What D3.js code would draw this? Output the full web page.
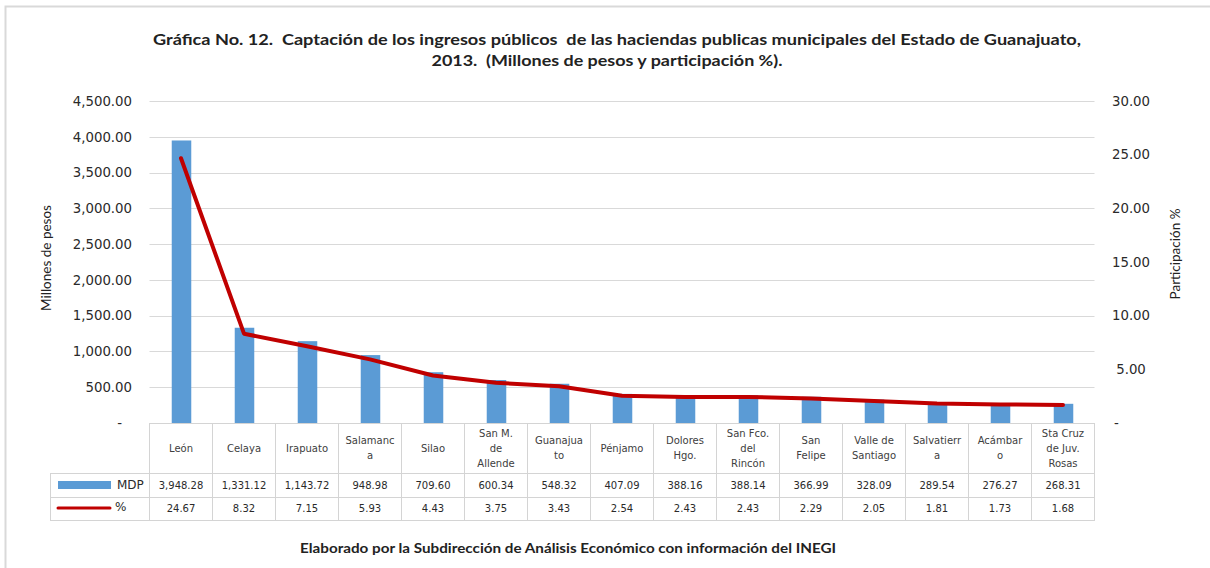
<!DOCTYPE html>
<html>
<head>
<meta charset="utf-8">
<script src="https://cdn.jsdelivr.net/npm/d3@7"></script>
<style>
  html, body { margin: 0; padding: 0; background: #fff; }
  svg { display: block; }
  .title { white-space: pre; }
</style>
</head>
<body>
<svg id="chart" width="1210" height="568"></svg>
<script>
// ---- Data ----
const categories = ["León","Celaya","Irapuato","Salamanca","Silao","San M. de Allende","Guanajuato","Pénjamo","Dolores Hgo.","San Fco. del Rincón","San Felipe","Valle de Santiago","Salvatierra","Acámbaro","Sta Cruz de Juv. Rosas"];
const categoryLines = [["León"],["Celaya"],["Irapuato"],["Salamanc","a"],["Silao"],["San M.","de","Allende"],["Guanajua","to"],["Pénjamo"],["Dolores","Hgo."],["San Fco.","del","Rincón"],["San","Felipe"],["Valle de","Santiago"],["Salvatierr","a"],["Acámbar","o"],["Sta Cruz","de Juv.","Rosas"]];
const mdp = [3948.28,1331.12,1143.72,948.98,709.60,600.34,548.32,407.09,388.16,388.14,366.99,328.09,289.54,276.27,268.31];
const pct = [24.67,8.32,7.15,5.93,4.43,3.75,3.43,2.54,2.43,2.43,2.29,2.05,1.81,1.73,1.68];
const leftTicks = [0,500,1000,1500,2000,2500,3000,3500,4000,4500];
const rightTicks = [0,5,10,15,20,25,30];
const titleLines = ["Gráfica No. 12.  Captación de los ingresos públicos  de las haciendas publicas municipales del Estado de Guanajuato,", "2013.  (Millones de pesos y participación %)."];
const leftTitle = "Millones de pesos";
const rightTitle = "Participación %";
const footnote = "Elaborado por la Subdirección de Análisis Económico con información del INEGI";
const legendNames = ["MDP", "%"];

// ---- Layout ----
const svg = d3.select("#chart");
const plotLeft = 149.5, plotRight = 1094.5, plotTop = 101, plotBottom = 423;
const gridColor = "#D9D9D9";
const tableColor = "#D4D4D4";
const barColor = "#5B9BD5";
const lineColor = "#C00000";
const tickFont = "'DejaVu Sans', Verdana, sans-serif";
const titleFont = "Lato, 'Open Sans', sans-serif";

const x = d3.scaleBand().domain(categories).range([plotLeft, plotRight]).padding(0);
const yL = d3.scaleLinear().domain([0, 4500]).range([plotBottom, plotTop]);
const yR = d3.scaleLinear().domain([0, 30]).range([plotBottom, plotTop]);
const fmt = d3.format(",.2f");

// outer border
svg.append("rect").attr("x", 5.5).attr("y", 6.5).attr("width", 1220).attr("height", 600)
  .attr("fill", "none").attr("stroke", "#D9D9D9").attr("stroke-width", 2);

// title
svg.selectAll("text.title").data(titleLines).join("text")
  .attr("class", "title")
  .attr("x", (d, i) => i === 0 ? 617 : 607)
  .attr("y", (d, i) => 45 + i * 21)
  .attr("text-anchor", "middle")
  .attr("font-family", titleFont).attr("font-weight", "bold").attr("font-size", 15.5)
  .attr("fill", "#222")
  .attr("textLength", (d, i) => i === 0 ? 928 : 351)
  .attr("lengthAdjust", "spacingAndGlyphs")
  .text(d => d);

// gridlines
svg.append("g").selectAll("line").data(leftTicks.slice(1)).join("line")
  .attr("x1", plotLeft).attr("x2", plotRight)
  .attr("y1", d => Math.round(yL(d)) + 0.5).attr("y2", d => Math.round(yL(d)) + 0.5)
  .attr("stroke", gridColor).attr("stroke-width", 1);

// left axis
const leftAxis = d3.axisLeft(yL).tickValues(leftTicks).tickSize(0).tickPadding(0)
  .tickFormat(d => d === 0 ? "-" : fmt(d));
const gL = svg.append("g").attr("transform", `translate(132,0)`).call(leftAxis);
gL.select(".domain").remove();
gL.selectAll("text").attr("font-family", tickFont).attr("font-size", 13.3).attr("fill", "#2a2a2a")
  .attr("dx", d => d === 0 ? -10 : 0);

// right axis
const rightAxis = d3.axisRight(yR).tickValues(rightTicks).tickSize(0).tickPadding(0)
  .tickFormat(d => d === 0 ? "-" : fmt(d));
const gR = svg.append("g").attr("transform", `translate(1131,0)`).call(rightAxis);
gR.select(".domain").remove();
gR.selectAll("text").attr("font-family", tickFont).attr("font-size", 13.3).attr("fill", "#2a2a2a")
  .attr("text-anchor", d => d === 0 ? "start" : "middle")
  .attr("dx", d => d === 0 ? -17 : 0);

// axis titles
svg.append("text").attr("transform", "translate(51,258) rotate(-90)")
  .attr("text-anchor", "middle").attr("font-family", titleFont).attr("font-size", 13.5).attr("fill", "#222")
  .text(leftTitle);
svg.append("text").attr("transform", "translate(1180,254) rotate(-90)")
  .attr("text-anchor", "middle").attr("font-family", titleFont).attr("font-size", 13.5).attr("fill", "#222")
  .text(rightTitle);

// bars
const barW = x.bandwidth() * 0.31;
svg.append("g").selectAll("rect").data(categories).join("rect")
  .attr("x", (d, i) => x(d) + (x.bandwidth() - barW) / 2 + 0.5)
  .attr("width", barW)
  .attr("y", (d, i) => yL(mdp[i]))
  .attr("height", (d, i) => plotBottom - yL(mdp[i]))
  .attr("fill", barColor);

// line
const line = d3.line().x((d, i) => x(categories[i]) + x.bandwidth() / 2).y(d => yR(d));
svg.append("path").datum(pct).attr("d", line)
  .attr("fill", "none").attr("stroke", lineColor).attr("stroke-width", 4)
  .attr("stroke-linejoin", "round").attr("stroke-linecap", "round");

// ---- data table ----
const rowTop = 423, row1 = 473, row2 = 497, row3 = 520, tableLeft = 50;
const tbl = svg.append("g").attr("stroke", tableColor).attr("stroke-width", 1);
tbl.append("line").attr("x1", plotLeft).attr("x2", plotRight).attr("y1", rowTop + 0.5).attr("y2", rowTop + 0.5);
[row1, row2, row3].forEach(yy => tbl.append("line").attr("x1", tableLeft).attr("x2", plotRight).attr("y1", yy + 0.5).attr("y2", yy + 0.5));
tbl.append("line").attr("x1", tableLeft + 0.5).attr("x2", tableLeft + 0.5).attr("y1", row1).attr("y2", row3 + 1);
const bounds = categories.map(c => x(c)).concat([plotRight]);
tbl.selectAll("line.v").data(bounds).join("line").attr("class", "v")
  .attr("x1", d => Math.floor(d) + 0.5).attr("x2", d => Math.floor(d) + 0.5)
  .attr("y1", rowTop).attr("y2", row3 + 1);

// category labels
const catG = svg.append("g").selectAll("text").data(categories).join("text")
  .attr("x", d => x(d) + x.bandwidth() / 2)
  .attr("text-anchor", "middle")
  .attr("font-family", tickFont).attr("font-size", 10).attr("fill", "#404040");
catG.each(function(d, i) {
  const lines = categoryLines[i];
  const n = lines.length;
  d3.select(this).selectAll("tspan").data(lines).join("tspan")
    .attr("x", x(d) + x.bandwidth() / 2)
    .attr("y", (l, j) => 448 + (j - (n - 1) / 2) * 15)
    .attr("dy", "0.35em")
    .text(l => l);
});

// values
svg.append("g").selectAll("text").data(mdp).join("text")
  .attr("x", (d, i) => x(categories[i]) + x.bandwidth() / 2).attr("y", 485).attr("dy", "0.35em")
  .attr("text-anchor", "middle").attr("font-family", tickFont).attr("font-size", 10).attr("fill", "#2a2a2a")
  .text(d => fmt(d));
svg.append("g").selectAll("text").data(pct).join("text")
  .attr("x", (d, i) => x(categories[i]) + x.bandwidth() / 2).attr("y", 508.5).attr("dy", "0.35em")
  .attr("text-anchor", "middle").attr("font-family", tickFont).attr("font-size", 10).attr("fill", "#2a2a2a")
  .text(d => d.toFixed(2));

// legend keys
svg.append("rect").attr("x", 58).attr("y", 481).attr("width", 53).attr("height", 8).attr("fill", barColor);
svg.append("line").attr("x1", 58).attr("x2", 110).attr("y1", 508).attr("y2", 508)
  .attr("stroke", lineColor).attr("stroke-width", 3).attr("stroke-linecap", "round");
svg.append("text").attr("x", 117).attr("y", 485).attr("dy", "0.35em")
  .attr("font-family", tickFont).attr("font-size", 12).attr("fill", "#2a2a2a").text(legendNames[0]);
svg.append("text").attr("x", 115).attr("y", 507).attr("dy", "0.35em")
  .attr("font-family", tickFont).attr("font-size", 12).attr("fill", "#2a2a2a").text(legendNames[1]);

// footnote
svg.append("text").attr("x", 568).attr("y", 553).attr("text-anchor", "middle")
  .attr("font-family", titleFont).attr("font-weight", "bold").attr("font-size", 13)
  .attr("fill", "#222").attr("textLength", 536).attr("lengthAdjust", "spacingAndGlyphs")
  .text(footnote);
</script>
</body>
</html>
